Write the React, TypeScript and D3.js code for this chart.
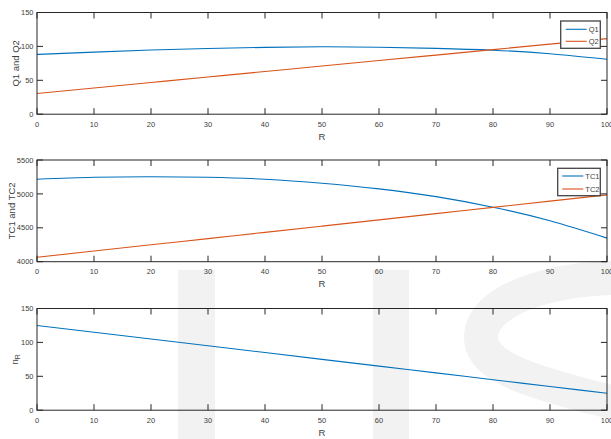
import React from "react";
import * as d3 from "d3";

const R = [0, 10, 20, 30, 40, 50, 60, 70, 80, 90, 100];
const Q1 = [88.2, 91.6, 94.6, 96.8, 98.6, 99.4, 98.8, 97.1, 94.4, 89.2, 81.0];
const Q2 = [30.6, 38.7, 46.8, 54.9, 63.0, 71.1, 79.1, 87.2, 95.3, 103.4, 111.5];
const TC1 = [5216, 5245, 5254, 5245, 5216, 5157, 5074, 4960, 4804, 4603, 4348];
const TC2 = [4065, 4157, 4249, 4341, 4433, 4525, 4617, 4709, 4801, 4893, 4985];
const NR = [125, 115, 105, 95, 85, 75, 65, 55, 45, 35, 25];

const xTicks = [0, 10, 20, 30, 40, 50, 60, 70, 80, 90, 100];
const qTicks = [0, 50, 100, 150];
const tcTicks = [4000, 4500, 5000, 5500];
const nTicks = [0, 50, 100, 150];

const C1 = "#0072BD";
const C2 = "#D95319";
const AX = "#262626";
const TXT = "#404040";
const FONT = "'Liberation Sans', Arial, sans-serif";

const X0 = 37, X1 = 607, H = 101.7;
const x = d3.scaleLinear().domain([0, 100]).range([X0, X1]);

type Series = { values: number[]; color: string; name: string };

function Panel(props: {
  top: number;
  domain: [number, number];
  ticks: number[];
  ylabel: React.ReactNode;
  ylabelX: number;
  series: Series[];
  legend?: { x: number; y: number; w: number; h: number; lineX0: number; lineX1: number; rowY: number[] };
}) {
  const { top, domain, ticks, series, legend } = props;
  const y = d3.scaleLinear().domain(domain).range([top + H, top]);
  const bottom = top + H;
  const TL = 6;
  return (
    <g>
      {series.map((s) => {
        const line = d3
          .line<number>()
          .x((_, i) => x(R[i]))
          .y((v) => y(v))
          .curve(d3.curveNatural);
        return <path key={s.name} d={line(s.values) || ""} fill="none" stroke={s.color} strokeWidth={1.1} />;
      })}
      <rect x={X0} y={top} width={X1 - X0} height={H} fill="none" stroke={AX} strokeWidth={1} />
      {xTicks.map((t) => (
        <g key={"x" + t}>
          <line x1={x(t)} x2={x(t)} y1={bottom} y2={bottom - TL} stroke={AX} />
          <line x1={x(t)} x2={x(t)} y1={top} y2={top + TL} stroke={AX} />
          <text x={x(t)} y={bottom + 12.5} textAnchor="middle" fontSize={7.5} fill={TXT} fontFamily={FONT}>
            {t}
          </text>
        </g>
      ))}
      {ticks.map((t) => (
        <g key={"y" + t}>
          <line x1={X0} x2={X0 + TL} y1={y(t)} y2={y(t)} stroke={AX} />
          <line x1={X1} x2={X1 - TL} y1={y(t)} y2={y(t)} stroke={AX} />
          <text x={33.5} y={y(t)} dy="0.35em" textAnchor="end" fontSize={7.5} fill={TXT} fontFamily={FONT}>
            {t}
          </text>
        </g>
      ))}
      <text x={(X0 + X1) / 2} y={bottom + 25.5} textAnchor="middle" fontSize={9.5} fill={TXT} fontFamily={FONT}>
        R
      </text>
      <text
        transform={`translate(${props.ylabelX}, ${top + H / 2}) rotate(-90)`}
        textAnchor="middle"
        fontSize={9.5}
        fill={TXT}
        fontFamily={FONT}
      >
        {props.ylabel}
      </text>
      {legend && (
        <g>
          <rect x={legend.x} y={legend.y} width={legend.w} height={legend.h} fill="#fff" stroke="#444" strokeWidth={1.3} />
          {series.map((s, i) => (
            <g key={"l" + s.name}>
              <line x1={legend.lineX0} x2={legend.lineX1} y1={legend.rowY[i]} y2={legend.rowY[i]} stroke={s.color} strokeWidth={1.1} />
              <text x={legend.lineX1 + 2} y={legend.rowY[i]} dy="0.35em" fontSize={7.5} fill={TXT} fontFamily={FONT}>
                {s.name}
              </text>
            </g>
          ))}
        </g>
      )}
    </g>
  );
}

export default function App() {
  return (
    <svg width={611} height={439} style={{ position: "absolute", left: 0, top: 0, background: "#fff" }}>
      <g>
        <rect x={178} y={270} width={37} height={169} fill="#f2f2f2" />
        <rect x={373} y={270} width={36} height={169} fill="#f2f2f2" />
        <path
          d="M 650 279 C 570 272, 482 295, 481 337 C 481 372, 545 385, 650 412"
          fill="none"
          stroke="#f2f2f2"
          strokeWidth={34}
        />
      </g>
      <Panel
        top={12.5}
        domain={[0, 150]}
        ticks={qTicks}
        ylabel="Q1 and Q2"
        ylabelX={19}
        series={[
          { values: Q1, color: C1, name: "Q1" },
          { values: Q2, color: C2, name: "Q2" },
        ]}
        legend={{ x: 560.7, y: 21, w: 39.6, h: 27.3, lineX0: 565.7, lineX1: 586.7, rowY: [29.3, 41.3] }}
      />
      <Panel
        top={160}
        domain={[4000, 5500]}
        ticks={tcTicks}
        ylabel="TC1 and TC2"
        ylabelX={14.5}
        series={[
          { values: TC1, color: C1, name: "TC1" },
          { values: TC2, color: C2, name: "TC2" },
        ]}
        legend={{ x: 557.7, y: 168.3, w: 42.6, h: 27.4, lineX0: 562.3, lineX1: 583.3, rowY: [176, 189] }}
      />
      <Panel
        top={308.5}
        domain={[0, 150]}
        ticks={nTicks}
        ylabel={
          <>
            n<tspan fontSize={7} dy={2}>R</tspan>
          </>
        }
        ylabelX={18}
        series={[{ values: NR, color: C1, name: "nR" }]}
      />
    </svg>
  );
}
